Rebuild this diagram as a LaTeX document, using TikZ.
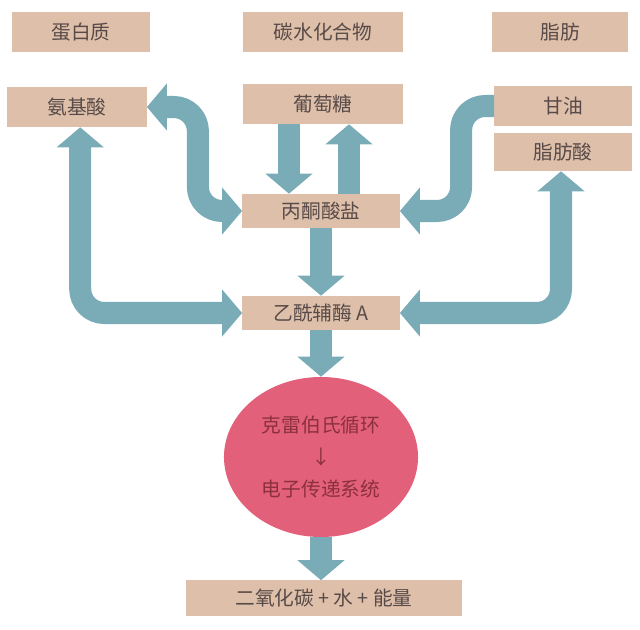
\documentclass[tikz,border=0pt]{standalone}
\usepackage{fontspec}
\setmainfont{Noto Sans CJK SC}
\usetikzlibrary{arrows.meta,shapes.geometric}
\definecolor{boxtan}{RGB}{222,192,170}
\definecolor{flowteal}{RGB}{122,172,183}
\definecolor{krebsred}{RGB}{226,96,122}
\definecolor{labelgray}{RGB}{88,74,72}
\definecolor{krebstext}{RGB}{140,48,62}
\begin{document}
\begin{tikzpicture}[x=0.025cm,y=-0.025cm,font=\fontsize{14}{16}\selectfont,line join=round,
	box/.style={fill=boxtan,text=labelgray,inner sep=0pt,minimum height=1cm},
	flow/.style={draw=flowteal,line width=0.55cm,rounded corners=0.6cm,-{Triangle[width=1.15cm,length=0.5cm]}},
	flowboth/.style={flow,{Triangle[width=1.15cm,length=0.5cm]}-{Triangle[width=1.15cm,length=0.5cm]}}]
	\useasboundingbox (0,0) rectangle (640,630);
	\path
	(81,32) node[box,minimum width=3.45cm] (pro) {蛋白质}
	(323,32) node[box,minimum width=4cm] (car) {碳水化合物}
	(560,32) node[box,minimum width=3.4cm] (fat) {脂肪}
	(77,107) node[box,minimum width=3.48cm] (ami) {氨基酸}
	(323,104) node[box,minimum width=4cm] (glu) {葡萄糖}
	(563,106) node[box,minimum width=3.43cm] (gly) {甘油}
	(563,152) node[box,minimum width=3.43cm,minimum height=0.95cm] (fac) {脂肪酸}
	(321,211) node[box,minimum width=3.93cm,minimum height=0.85cm] (pyr) {丙酮酸盐}
	(321,313) node[box,minimum width=3.93cm,minimum height=0.85cm] (aco) {乙酰辅酶 A}
	(321,457) node[ellipse,fill=krebsred,text=krebstext,inner sep=0pt,minimum width=4.85cm,minimum height=4cm,align=center] (kre) {克雷伯氏循环\\[7pt]↓\\[7pt]电子传递系统}
	(324,598) node[box,minimum width=6.9cm,minimum height=0.875cm] (out) {二氧化碳 + 水 + 能量}
	;
	% main line
	\draw[flow] (pyr.south) -- (aco.north);
	\draw[flow] (aco.south) -- (aco.south |- kre.north);
	\draw[flow] (kre.south) -- (kre.south |- out.north);
	\draw[flow] ([xshift=-0.85cm]glu.south) -- ([xshift=-0.85cm]glu.south |- pyr.north);
	\draw[flow] ([xshift=0.7cm]pyr.north) -- ([xshift=0.7cm]pyr.north |- glu.south);
	% side loops
	\draw[flowboth] (ami.east) -- ++(51,0) |- (pyr.west);
	\draw[flowboth] (aco.west) -| ([xshift=0.08cm]ami.south);
	\draw[flow] (gly.west) -- ++(-33,0) |- (pyr.east);
	\draw[flowboth] (aco.east) -| ([xshift=-0.05cm]fac.south);
\end{tikzpicture}
\end{document}
